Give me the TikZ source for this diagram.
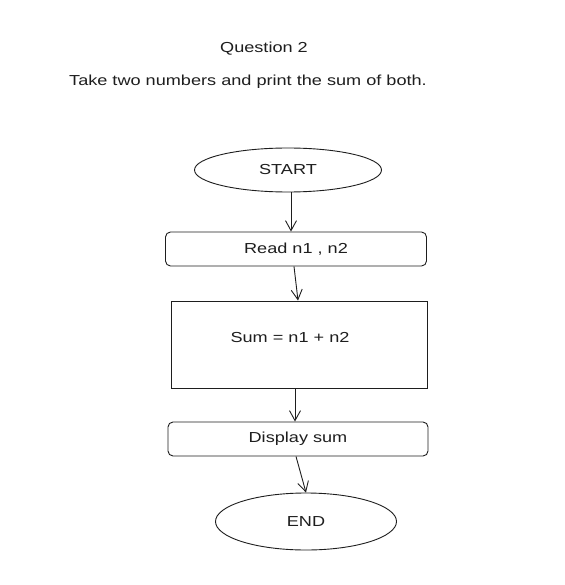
\documentclass[tikz,border=0pt]{standalone}
\usepackage{fontspec}
\setmainfont{Liberation Sans}[FakeStretch=1.25]
\usetikzlibrary{arrows.meta,shapes.geometric}
\definecolor{ink}{HTML}{1E1E1E}
\begin{document}
\begin{tikzpicture}[x=1pt,y=-1pt,
  every node/.style={text=ink,font=\fontsize{14.5}{16}\selectfont},
  oval/.style={draw=ink,line width=0.9pt,ellipse,inner sep=0pt},
  rbox/.style={draw=ink,line width=0.9pt,rounded corners=5pt,inner sep=0pt},
  sbox/.style={draw=ink,line width=0.9pt,inner sep=0pt},
  flow/.style={draw=ink,line width=0.9pt,-{Straight Barb[length=10pt,width=11pt,line width=0.9pt]}}]
\useasboundingbox[fill=white] (0,0) rectangle (564,585);
\node (q) at (264,49) {Question 2};
\node (task) at (248,82) {Take two numbers and print the sum of both.};
\node[oval,minimum width=187pt,minimum height=44pt] (start) at (288,170) {START};
\node[rbox,minimum width=261pt,minimum height=34pt] (read) at (296,249) {Read n1 , n2};
\node[sbox,minimum width=256pt,minimum height=87pt] (sum) at (299,344.5) {};
\node (sumt) at (290,338) {Sum = n1 + n2};
\node[rbox,minimum width=260pt,minimum height=34pt] (disp) at (298,439) {Display sum};
\node[oval,minimum width=181pt,minimum height=57pt] (end) at (306,521.5) {END};
\draw[flow] (start.south) ++(3,0) coordinate (a1) -- (read.north -| a1);
\draw[flow] ([xshift=-2pt]read.south) -- ([xshift=-1pt]sum.north);
\draw[flow] ([xshift=-4pt]sum.south) -- ([xshift=-3pt]disp.north);
\draw[flow] ([xshift=-2pt]disp.south) -- (end.north);
\end{tikzpicture}
\end{document}
